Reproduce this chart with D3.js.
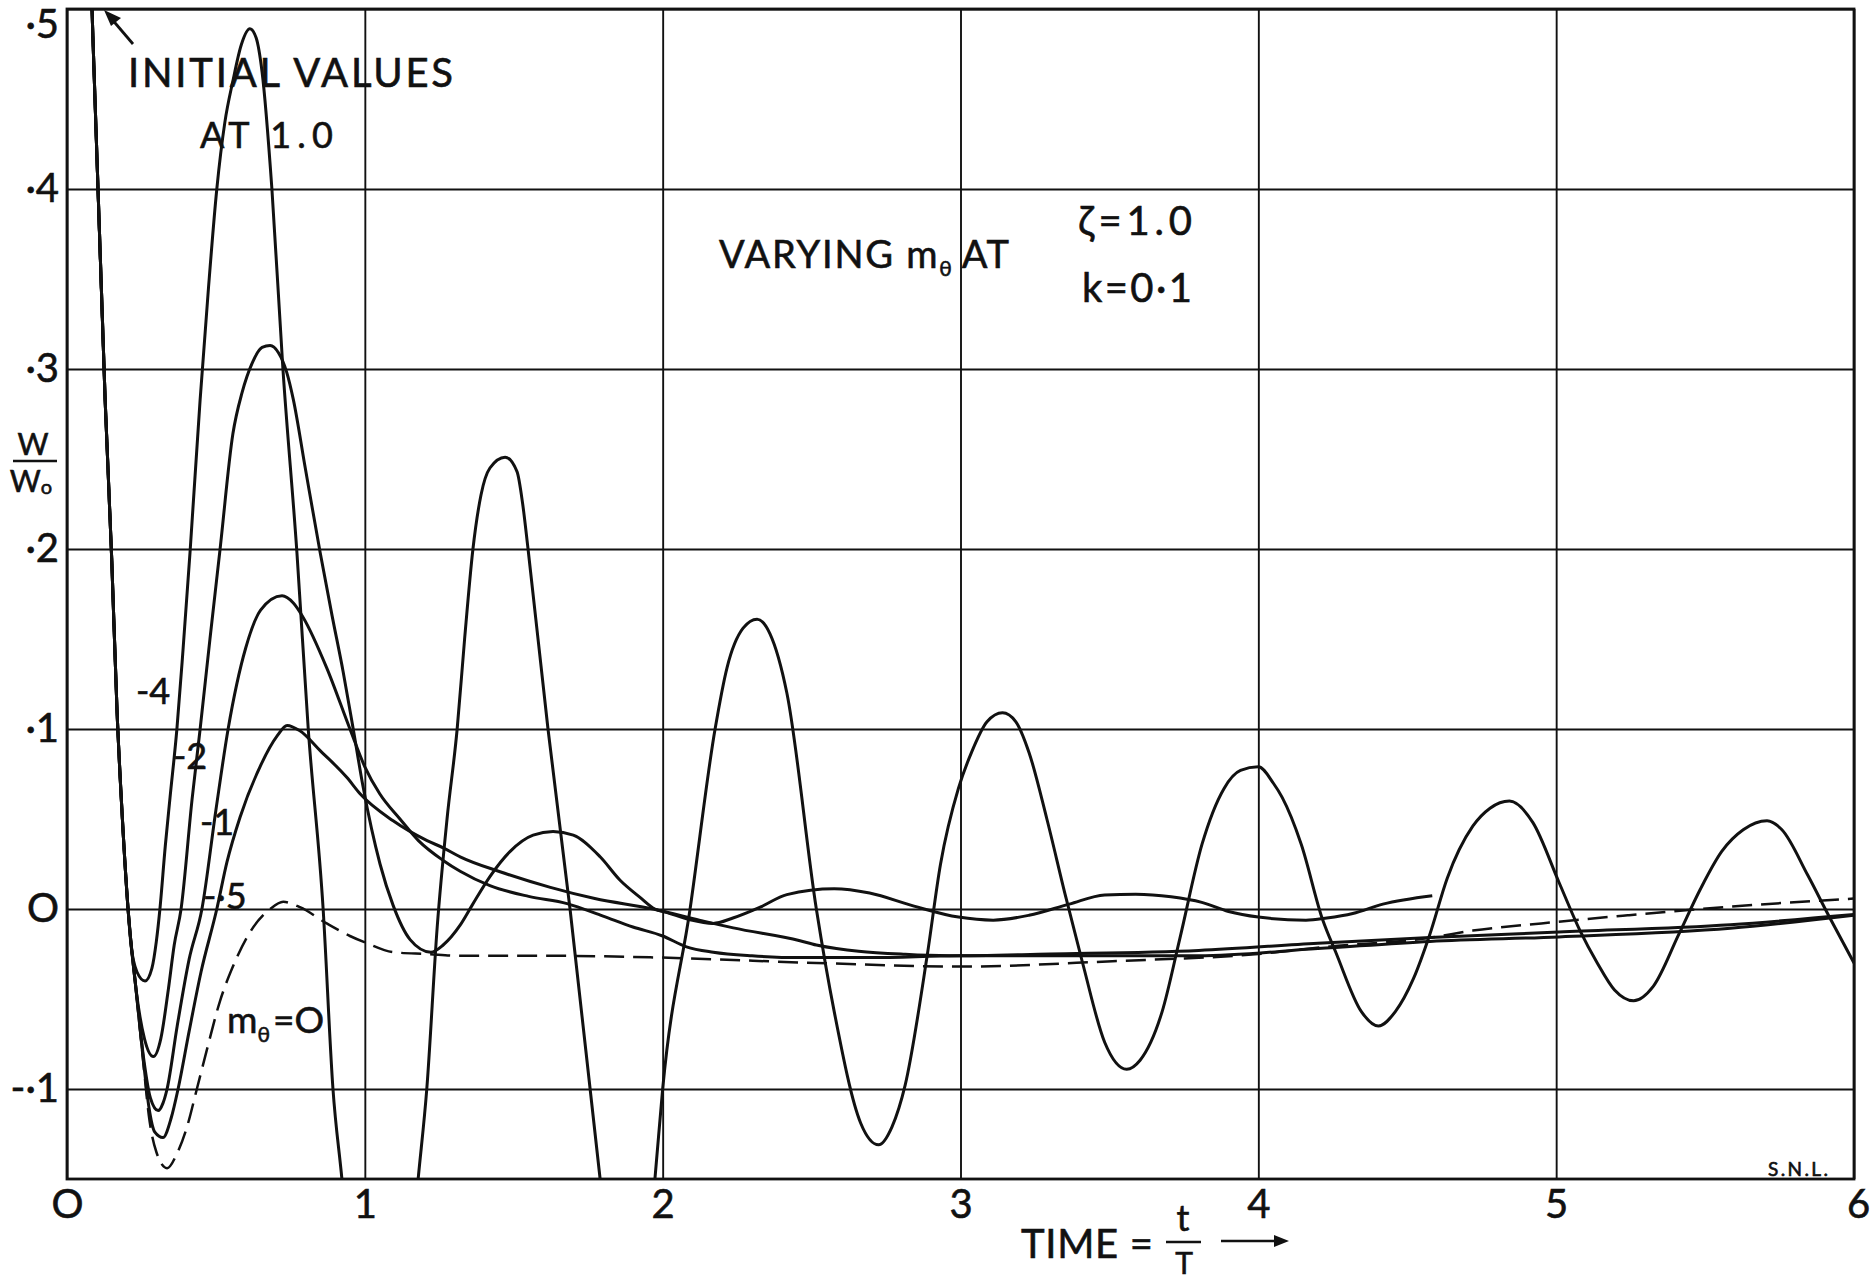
<!DOCTYPE html>
<html><head><meta charset="utf-8">
<script src="https://cdn.jsdelivr.net/npm/d3@7"></script>
<style>
body{margin:0;background:#fff}
svg{display:block;background:#fff}
text{font-family:Lato,"Open Sans",sans-serif;fill:#111;stroke:#111;stroke-width:0.6px}
</style>
</head><body>
<svg id="c" width="1873" height="1280"></svg>
<script>
// ---------- data ----------
const xTicks = [0,1,2,3,4,5,6];
const xTickLabels = ["O","1","2","3","4","5","6"];
const yTicks = [0.5,0.4,0.3,0.2,0.1,0,-0.1];
const yTickLabels = ["·5","·4","·3","·2","·1","O","-·1"];
const seriesNames = ["-4","-2","-1","-·5","mθ=O"];

// shared initial descent (all curves start at 1.0)
const tStart = [0,0.04,0.084,0.128,0.15,0.168,0.186];
const wStart = [1.0,0.74,0.5,0.283,0.195,0.11,0.05];

// m_theta = -4
const tM4 = [0.205,0.215,0.235,0.262,0.285,0.3,0.312,0.33,0.346,0.369,0.39,0.413,0.447,0.475,0.503,0.53,0.557,0.585,0.614,0.635,0.655,0.688,0.725,0.772,0.81,0.86,0.893,0.923,0.96,1.05,1.14,1.179,1.208,1.243,1.276,1.31,1.335,1.363,1.39,1.42,1.471,1.511,1.53,1.548,1.615,1.689,1.79,1.84,1.88,1.93,1.974,2.0,2.092,2.176,2.216,2.27,2.317,2.36,2.417,2.516,2.576,2.665,2.725,2.77,2.814,2.888,2.933,2.993,3.037,3.089,3.141,3.186,3.23,3.29,3.35,3.41,3.484,3.558,3.603,3.677,3.737,3.811,3.885,3.94,4.0,4.05,4.08,4.144,4.216,4.26,4.346,4.403,4.46,4.52,4.576,4.634,4.72,4.778,4.843,4.922,5.009,5.08,5.138,5.196,5.26,5.326,5.412,5.484,5.556,5.628,5.708,5.758,5.844,5.916,6.0];
const wM4 = [0.0,-0.02,-0.035,-0.04,-0.033,-0.018,0.0,0.035,0.062,0.1,0.145,0.198,0.283,0.345,0.4,0.437,0.46,0.48,0.489,0.484,0.465,0.4,0.3,0.198,0.1,0.0,-0.1,-0.15,-0.22,-0.3,-0.22,-0.15,-0.1,-0.01,0.05,0.1,0.15,0.2,0.23,0.245,0.251,0.243,0.225,0.2,0.1,0.0,-0.15,-0.22,-0.24,-0.22,-0.15,-0.1,0.0,0.1,0.134,0.156,0.161,0.153,0.12,0.0,-0.057,-0.119,-0.131,-0.121,-0.098,-0.026,0.025,0.067,0.087,0.104,0.109,0.104,0.087,0.05,0.009,-0.03,-0.074,-0.089,-0.084,-0.057,-0.016,0.036,0.067,0.077,0.079,0.07,0.062,0.036,-0.006,-0.024,-0.057,-0.065,-0.057,-0.039,-0.014,0.017,0.046,0.056,0.06,0.048,0.015,-0.012,-0.03,-0.045,-0.051,-0.043,-0.014,0.011,0.032,0.044,0.049,0.044,0.019,-0.004,-0.03];

// m_theta = -2
const tM2 = [0.205,0.232,0.26,0.29,0.315,0.34,0.36,0.383,0.42,0.447,0.48,0.514,0.557,0.588,0.621,0.655,0.682,0.71,0.738,0.76,0.8,0.85,0.89,0.927,0.961,0.994,1.051,1.095,1.152,1.222,1.263,1.32,1.36,1.42,1.488,1.565,1.632,1.7,1.79,1.857,1.924,1.974,2.015,2.092,2.169,2.236,2.327,2.417,2.576,2.695,2.844,2.993,3.11,3.23,3.365,3.484,3.588,3.707,3.81,3.9,4.0,4.16,4.23,4.317,4.418,4.584];
const wM2 = [0.0,-0.045,-0.072,-0.082,-0.072,-0.045,-0.02,0.0,0.061,0.1,0.15,0.2,0.264,0.287,0.303,0.312,0.313,0.309,0.298,0.283,0.245,0.198,0.163,0.132,0.1,0.068,0.025,0.002,-0.017,-0.024,-0.02,-0.009,0.002,0.018,0.032,0.041,0.043,0.041,0.029,0.016,0.0065,0.0,-0.002,-0.006,-0.008,-0.005,0.001,0.008,0.0113,0.0089,0.0016,-0.0045,-0.0062,-0.0035,0.0027,0.0078,0.0082,0.0068,0.0037,-0.0014,-0.0045,-0.0062,-0.005,-0.0025,0.0027,0.0074];

// m_theta = -1
const tM1 = [0.205,0.232,0.259,0.28,0.306,0.322,0.336,0.37,0.41,0.453,0.5,0.541,0.6,0.65,0.722,0.76,0.793,0.872,0.95,1.0,1.05,1.118,1.18,1.263,1.32,1.42,1.55,1.679,1.8,1.9,2.0,2.08,2.17,2.3,2.46,2.7,3.0,3.4,3.8,4.2,4.576,5.009,5.585,6.0];
const wM1 = [0.0,-0.045,-0.085,-0.105,-0.112,-0.108,-0.1,-0.065,-0.028,0.0,0.055,0.1,0.145,0.166,0.174,0.17,0.162,0.134,0.1,0.079,0.064,0.05,0.038,0.027,0.021,0.013,0.007,0.003,-0.004,-0.01,-0.015,-0.021,-0.024,-0.026,-0.027,-0.027,-0.026,-0.026,-0.026,-0.022,-0.018,-0.0155,-0.0107,-0.0035];

// m_theta = -0.5
const tM05 = [0.205,0.232,0.259,0.275,0.295,0.322,0.35,0.373,0.41,0.45,0.503,0.537,0.581,0.648,0.705,0.739,0.782,0.85,0.94,0.984,1.095,1.209,1.263,1.32,1.454,1.623,1.772,1.968,2.126,2.237,2.461,2.516,2.814,2.963,3.3,3.8,4.2,4.576,5.009,5.585,6.0];
const wM05 = [0.0,-0.045,-0.088,-0.11,-0.124,-0.127,-0.116,-0.1,-0.068,-0.035,0.0,0.026,0.051,0.079,0.096,0.102,0.099,0.088,0.073,0.064,0.049,0.038,0.034,0.029,0.0207,0.012,0.0058,0.0,-0.0063,-0.0105,-0.0176,-0.02,-0.0252,-0.026,-0.025,-0.023,-0.019,-0.0159,-0.0128,-0.0087,-0.0031];

// m_theta = 0 (dashed)
const tM0 = [0.205,0.232,0.259,0.275,0.3,0.336,0.369,0.403,0.436,0.47,0.514,0.557,0.614,0.682,0.726,0.782,0.872,0.95,1.007,1.095,1.209,1.32,1.623,1.996,2.516,3.0,3.51,4.0,4.23,4.576,4.72,4.95,5.24,5.527,6.0];
const wM0 = [0.0,-0.045,-0.09,-0.115,-0.135,-0.144,-0.136,-0.121,-0.1,-0.078,-0.051,-0.032,-0.013,0.0,0.004,0.001,-0.008,-0.015,-0.019,-0.024,-0.025,-0.026,-0.026,-0.027,-0.03,-0.032,-0.029,-0.025,-0.021,-0.016,-0.012,-0.008,-0.0035,0.0006,0.0058];

// ---------- chart ----------
const svg = d3.select("#c");
const x = d3.scaleLinear().domain([0,6]).range([67,1854]);
const y = d3.scaleLinear().domain([-0.15,0.5]).range([1179,9]);
const ink = "#111";

// grid + tick labels through axes
const gx = svg.append("g")
  .attr("transform",`translate(0,${y(-0.15)})`)
  .call(d3.axisBottom(x).tickValues(xTicks)
    .tickSize(-(y(-0.15)-y(0.5))).tickPadding(11)
    .tickFormat((d,i)=>xTickLabels[i]));
gx.select(".domain").remove();
gx.selectAll(".tick line").attr("stroke",ink).attr("stroke-width",1.9);
gx.selectAll(".tick text").attr("font-size",40).attr("font-family","Lato").attr("fill",ink);
gx.selectAll(".tick text").filter(d=>d===6).attr("dx",4);

const gy = svg.append("g")
  .attr("transform",`translate(${x(0)},0)`)
  .call(d3.axisLeft(y).tickValues(yTicks)
    .tickSize(-(x(6)-x(0))).tickPadding(8)
    .tickFormat((d,i)=>yTickLabels[i]));
gy.select(".domain").remove();
gy.selectAll(".tick line").attr("stroke",ink).attr("stroke-width",1.9);
gy.selectAll(".tick text").attr("font-size",40).attr("font-family","Lato").attr("fill",ink);
gy.selectAll(".tick text").filter(d=>d===0.5).attr("dy","0.72em");

// frame
svg.append("rect").attr("x",x(0)).attr("y",y(0.5))
  .attr("width",x(6)-x(0)).attr("height",y(-0.15)-y(0.5))
  .attr("fill","none").attr("stroke",ink).attr("stroke-width",2.8);

// clip
svg.append("clipPath").attr("id","plot").append("rect")
  .attr("x",x(0)).attr("y",y(0.5))
  .attr("width",x(6)-x(0)).attr("height",y(-0.15)-y(0.5));

const line = d3.line().x(d=>x(d[0])).y(d=>y(d[1])).curve(d3.curveMonotoneX);
const mk = (ts,ws)=>tStart.map((t,i)=>[t,wStart[i]]).concat(ts.map((t,i)=>[t,ws[i]]));
const series = [
  {name:seriesNames[0], pts:mk(tM4,wM4), dash:null},
  {name:seriesNames[1], pts:mk(tM2,wM2), dash:null},
  {name:seriesNames[2], pts:mk(tM1,wM1), dash:null},
  {name:seriesNames[3], pts:mk(tM05,wM05), dash:null},
  {name:seriesNames[4], pts:mk(tM0,wM0), dash:"20,9"}
];
const gc = svg.append("g").attr("clip-path","url(#plot)");
gc.selectAll("path.curve").data(series).join("path")
  .attr("class","curve")
  .attr("d",d=>line(d.pts))
  .attr("fill","none").attr("stroke",ink)
  .attr("stroke-width",d=>d.dash?2.5:3)
  .attr("stroke-linejoin","round")
  .attr("stroke-dasharray",d=>d.dash);

// ---------- annotations ----------
const T = (txt,xx,yy,fs,extra={})=>{
  const t = svg.append("text").attr("x",xx).attr("y",yy).attr("font-size",fs).text(txt);
  for(const k in extra) t.attr(k,extra[k]);
  return t;
};
T("INITIAL VALUES",128,87,40,{textLength:325,lengthAdjust:"spacing"});
T("AT 1.0",200,148,36,{textLength:133,lengthAdjust:"spacing"});
// arrow to initial values
svg.append("line").attr("x1",133).attr("y1",44).attr("x2",110).attr("y2",17)
  .attr("stroke",ink).attr("stroke-width",2.8);
svg.append("path").attr("d","M104,10 L121,18 L111,26 Z").attr("fill",ink);

// VARYING m_theta AT
const tv = svg.append("text").attr("x",719).attr("y",268).attr("font-size",38)
  .attr("textLength",290).attr("lengthAdjust","spacing");
tv.append("tspan").text("VARYING m");
tv.append("tspan").attr("font-size",21).attr("dy",8).text("θ");
tv.append("tspan").attr("dy",-8).attr("dx",8).text("AT");
T("ζ=1.0",1078,235,40,{textLength:114,lengthAdjust:"spacing"});
T("k=0·1",1082,302,40,{textLength:110,lengthAdjust:"spacing"});

// y-axis label w / w0
T("W",33,455,30,{"text-anchor":"middle"});
svg.append("line").attr("x1",13).attr("x2",57).attr("y1",461).attr("y2",461)
  .attr("stroke",ink).attr("stroke-width",2.6);
const w0 = svg.append("text").attr("x",31).attr("y",492).attr("font-size",30).attr("text-anchor","middle");
w0.append("tspan").text("W");
w0.append("tspan").attr("font-size",20).attr("dy",2).text("o");

// x-axis title
T("TIME =",1021,1258,40,{textLength:132,lengthAdjust:"spacing"});
T("t",1183,1231,36,{"text-anchor":"middle"});
svg.append("line").attr("x1",1166).attr("x2",1201).attr("y1",1242).attr("y2",1242)
  .attr("stroke",ink).attr("stroke-width",2.6);
T("T",1184,1274,30,{"text-anchor":"middle"});
svg.append("line").attr("x1",1221).attr("x2",1277).attr("y1",1241).attr("y2",1241)
  .attr("stroke",ink).attr("stroke-width",2.6);
svg.append("path").attr("d","M1289,1241 L1274,1235 L1274,1247 Z").attr("fill",ink);

// curve labels
T(seriesNames[0],136,704,36);
T(seriesNames[1],173,769,36);
T(seriesNames[2],200,835,36);
T(seriesNames[3],203,909,36);
const tm = svg.append("text").attr("x",227).attr("y",1033).attr("font-size",37);
tm.append("tspan").text("m");
tm.append("tspan").attr("font-size",21).attr("dy",9).text("θ");
tm.append("tspan").attr("dy",-9).attr("dx",3).text("=O");

// signature
T("S.N.L.",1768,1176,19,{textLength:60,lengthAdjust:"spacing"});
</script>
</body></html>
